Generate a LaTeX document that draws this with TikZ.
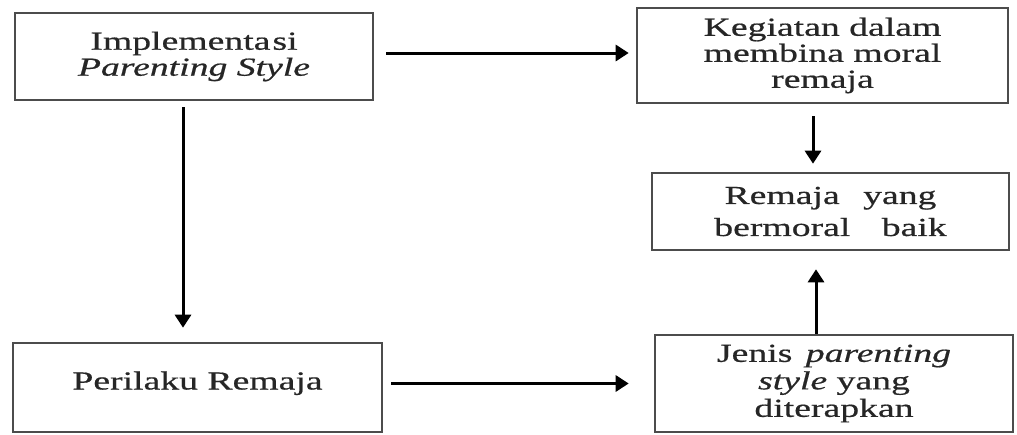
\documentclass[tikz,border=0pt]{standalone}
\usepackage{fontspec}
\setmainfont{Liberation Serif}[FakeStretch=1.45, FakeBold=0.6]
\usetikzlibrary{arrows.meta}
\begin{document}
\begin{tikzpicture}[x=1pt,y=-1pt,
  box/.style={draw=black!70, line width=2.6pt, align=center, inner sep=0pt,
    font=\fontsize{26}{26}\selectfont, text=black!85},
  arr/.style={line width=3pt, draw=black, -{Triangle[width=16pt,length=13pt]}}]
\useasboundingbox (0,0) rectangle (1017,434);
\node[box, minimum width=358pt, minimum height=87pt] (b1) at (194,56.5)
  {Implementa\hspace{2pt}si\\ \textit{Parenting Style}};
\node[box, minimum width=371pt, minimum height=95pt] (b2) at (822.5,55.5)
  {Kegiatan dalam\\ membina moral\\ remaja};
\node[box, minimum width=357pt, minimum height=77pt,
  font=\fontsize{26}{32}\selectfont] (b3) at (830.5,211.5)
  {Remaja\hspace{14pt} yang\\ bermoral\hspace{22pt} baik};
\node[box, minimum width=369pt, minimum height=89pt, text depth=14pt] (b4) at (197.5,387.5)
  {Perilaku Remaja};
\node[box, minimum width=358pt, minimum height=97pt,
  font=\fontsize{26}{27.5}\selectfont] (b5) at (834,383.5)
  {Jenis\hspace{4pt} \textit{parenting}\\ \textit{style} yang\\ diterapkan};
\draw[arr, shorten <=12pt, shorten >=7pt]
  ([yshift=3.5pt]b1.east) -- ([yshift=3.5pt]b1.east -| b2.west);
\draw[arr, shorten <=6pt, shorten >=14pt]
  ([xshift=-11pt]b1.south) -- ([xshift=-11pt]b1.south |- b4.north);
\draw[arr, shorten <=12pt, shorten >=8pt]
  ([xshift=-9.5pt]b2.south) -- ([xshift=-9.5pt]b2.south |- b3.north);
\draw[arr, shorten <=8pt, shorten >=25pt]
  ([yshift=4pt]b4.east) -- ([yshift=4pt]b4.east -| b5.west);
\draw[arr, shorten >=18pt]
  ([xshift=-18pt]b5.north) -- ([xshift=-18pt]b5.north |- b3.south);
\end{tikzpicture}
\end{document}
